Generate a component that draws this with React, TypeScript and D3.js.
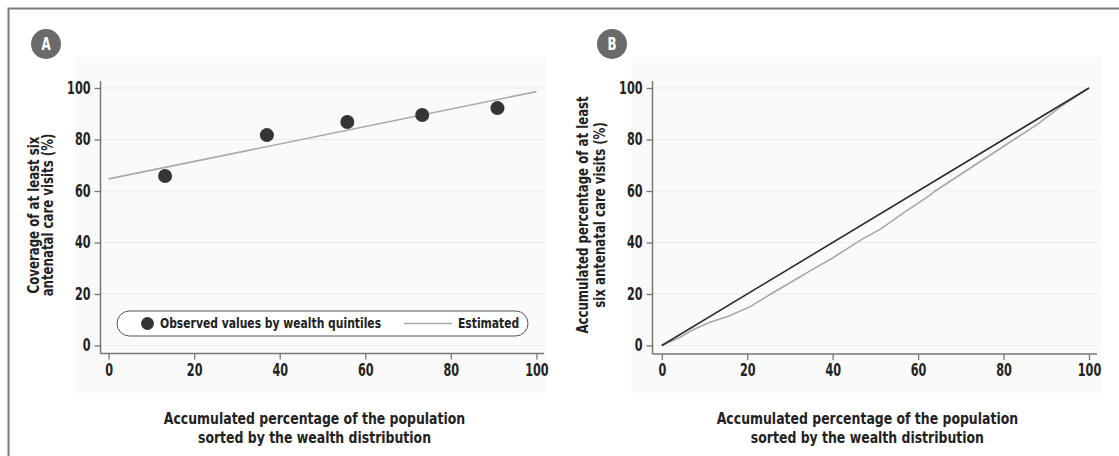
import React, { useEffect, useRef } from 'react'
import * as d3 from 'd3'

const FONT = "'DejaVu Sans', 'Liberation Sans', sans-serif"

const xTicks = [0, 20, 40, 60, 80, 100]
const yTicks = [0, 20, 40, 60, 80, 100]

// panel A: coverage by wealth quintile
const quintileX = [13.2, 37, 55.8, 73.3, 90.9]
const quintileCoverage = [65.8, 81.7, 86.8, 89.5, 92.2]
const estimatedX = [0, 100]
const estimatedY = [64.7, 98.6]

// panel B: concentration curve vs line of equality
const equalityX = [0, 100]
const equalityY = [0, 100]
const concX = [0, 4.3, 7.4, 11.3, 15.6, 20.7, 26, 32.4, 34.7, 40, 46.8, 51, 57, 62.8, 64, 70, 76, 82, 88, 93.3, 100]
const concY = [0, 3.2, 6.2, 9, 11.4, 15.1, 20.5, 26.7, 29, 34, 41.2, 45, 52, 58.4, 60, 66.5, 73, 79.5, 86, 92.7, 100]

const xTitle = ['Accumulated percentage of the population', 'sorted by the wealth distribution']

// fake a condensed face: squeeze glyphs horizontally around their anchor
function squeeze(sel: any, k: number, origin: string) {
  sel.style('transform-box', 'fill-box').style('transform-origin', origin).style('transform', `scaleX(${k})`)
}

function drawPanel(root: any, p: any) {
  const x = d3.scaleLinear().domain([0, 100]).range([p.x0, p.x1])
  const y = d3.scaleLinear().domain([0, 100]).range([345.5, 88])
  const g = root.append('g')

  g.append('rect')
    .attr('x', p.bg0).attr('y', 57)
    .attr('width', p.bg1 - p.bg0).attr('height', 336)
    .attr('fill', '#fafafa')

  g.selectAll('line.grid').data(yTicks).join('line')
    .attr('class', 'grid')
    .attr('x1', p.axisX).attr('x2', p.end)
    .attr('y1', (d: number) => y(d)).attr('y2', (d: number) => y(d))
    .attr('stroke', '#ebebeb').attr('stroke-width', 1)

  const yAxis = d3.axisLeft(y).tickValues(yTicks).tickSize(6).tickPadding(4)
  const ya = g.append('g').attr('transform', `translate(${p.axisX},0)`).call(yAxis)
  const xAxis = d3.axisBottom(x).tickValues(xTicks).tickSize(6).tickPadding(4)
  const xa = g.append('g').attr('transform', `translate(0,${p.axisY})`).call(xAxis)
  for (const a of [ya, xa]) {
    a.select('.domain').remove()
    a.selectAll('line').attr('stroke', '#777').attr('stroke-width', 1.3)
    a.selectAll('text').attr('font-family', FONT).attr('font-weight', 'bold')
      .attr('font-size', 17).attr('fill', '#222')
  }
  squeeze(ya.selectAll('text'), 0.66, 'right center')
  squeeze(xa.selectAll('text'), 0.66, 'center')

  g.append('line').attr('x1', p.axisX).attr('x2', p.axisX).attr('y1', 81).attr('y2', p.axisY)
    .attr('stroke', '#777').attr('stroke-width', 1.5)
  g.append('line').attr('x1', p.axisX).attr('x2', p.end).attr('y1', p.axisY).attr('y2', p.axisY)
    .attr('stroke', '#777').attr('stroke-width', 1.5)

  // x title
  const cx = (x(0) + x(100)) / 2 - 8
  const xt = g.append('text').attr('x', cx).attr('y', 424).attr('text-anchor', 'middle')
    .attr('font-family', FONT).attr('font-weight', 'bold').attr('font-size', 16).attr('fill', '#222')
  xt.selectAll('tspan').data(xTitle).join('tspan')
    .attr('x', cx).attr('dy', (_d: string, i: number) => (i === 0 ? 0 : 19))
    .text((d: string) => d)
  squeeze(xt, 0.78, 'center')

  // y title
  const ytg = g.append('g').attr('transform', `translate(${p.yTitleX},215) rotate(-90)`)
  const yt = ytg.append('text').attr('text-anchor', 'middle')
    .attr('font-family', FONT).attr('font-weight', 'bold').attr('font-size', 15.5).attr('fill', '#222')
  yt.selectAll('tspan').data(p.yTitle).join('tspan')
    .attr('x', 0).attr('dy', (_d: string, i: number) => (i === 0 ? 0 : p.yTitleGap))
    .text((d: string) => d)
  squeeze(yt, 0.76, 'center')

  // panel badge
  g.append('circle').attr('cx', p.badgeX).attr('cy', 44).attr('r', 15).attr('fill', '#6a6a6a')
  const bt = g.append('text').attr('x', p.badgeX).attr('y', 50.5).attr('text-anchor', 'middle')
    .attr('font-family', FONT).attr('font-weight', 'bold').attr('font-size', 17).attr('fill', '#fff')
    .text(p.badge)
  squeeze(bt, 0.7, 'center')

  return { x, y, g }
}

export default function App() {
  const ref = useRef<SVGSVGElement | null>(null)

  useEffect(() => {
    document.body.style.margin = '0'
    const svg = d3.select(ref.current)
    svg.selectAll('*').remove()
    svg.append('rect').attr('width', 1119).attr('height', 456).attr('fill', '#fff')

    const line = d3.line<[number, number]>()

    // panel A
    const A = drawPanel(svg, {
      x0: 108.6, x1: 536.4, axisX: 100.5, axisY: 353.5, end: 544, bg0: 75, bg1: 546,
      yTitleX: 38.5, yTitleGap: 15,
      yTitle: ['Coverage of at least six', 'antenatal care visits (%)'], badge: 'A', badgeX: 46,
    })
    A.g.append('path')
      .datum(estimatedX.map((v, i) => [A.x(v), A.y(estimatedY[i])] as [number, number]))
      .attr('d', line).attr('fill', 'none').attr('stroke', '#aaa').attr('stroke-width', 1.6)
    A.g.selectAll('circle.pt').data(quintileX).join('circle')
      .attr('class', 'pt')
      .attr('cx', (d: number) => A.x(d)).attr('cy', (_d: number, i: number) => A.y(quintileCoverage[i]))
      .attr('r', 7).attr('fill', '#353535')

    // legend
    const lg = A.g.append('g')
    lg.append('rect').attr('x', 117).attr('y', 311).attr('width', 411).attr('height', 25)
      .attr('rx', 12.5).attr('fill', '#fff').attr('stroke', '#555').attr('stroke-width', 1)
    lg.append('circle').attr('cx', 147.5).attr('cy', 323.5).attr('r', 6.5).attr('fill', '#353535')
    const t1 = lg.append('text').attr('x', 160).attr('y', 328.5).attr('font-family', FONT).attr('font-weight', 'bold')
      .attr('font-size', 14).attr('fill', '#222').text('Observed values by wealth quintiles')
    squeeze(t1, 0.77, 'left center')
    lg.append('line').attr('x1', 404).attr('x2', 452).attr('y1', 323.5).attr('y2', 323.5)
      .attr('stroke', '#aaa').attr('stroke-width', 1.6)
    const t2 = lg.append('text').attr('x', 458).attr('y', 328.5).attr('font-family', FONT).attr('font-weight', 'bold')
      .attr('font-size', 14).attr('fill', '#222').text('Estimated')
    squeeze(t2, 0.77, 'left center')

    // panel B
    const B = drawPanel(svg, {
      x0: 661.8, x1: 1089, axisX: 652.5, axisY: 354, end: 1097, bg0: 631, bg1: 1102,
      yTitleX: 588, yTitleGap: 17,
      yTitle: ['Accumulated percentage of at least', 'six antenatal care visits (%)'], badge: 'B', badgeX: 612,
    })
    B.g.append('path')
      .datum(concX.map((v, i) => [B.x(v), B.y(concY[i])] as [number, number]))
      .attr('d', line).attr('fill', 'none').attr('stroke', '#a8a8a8').attr('stroke-width', 1.6)
    B.g.append('path')
      .datum(equalityX.map((v, i) => [B.x(v), B.y(equalityY[i])] as [number, number]))
      .attr('d', line).attr('fill', 'none').attr('stroke', '#2b2b2b').attr('stroke-width', 1.6)

    // frame (top and left only)
    svg.append('path').attr('d', 'M1119,8.5H8.5V456').attr('fill', 'none')
      .attr('stroke', '#7a7a7a').attr('stroke-width', 2)
  }, [])

  return <svg ref={ref} width={1119} height={456} style={{ display: 'block' }} />
}
